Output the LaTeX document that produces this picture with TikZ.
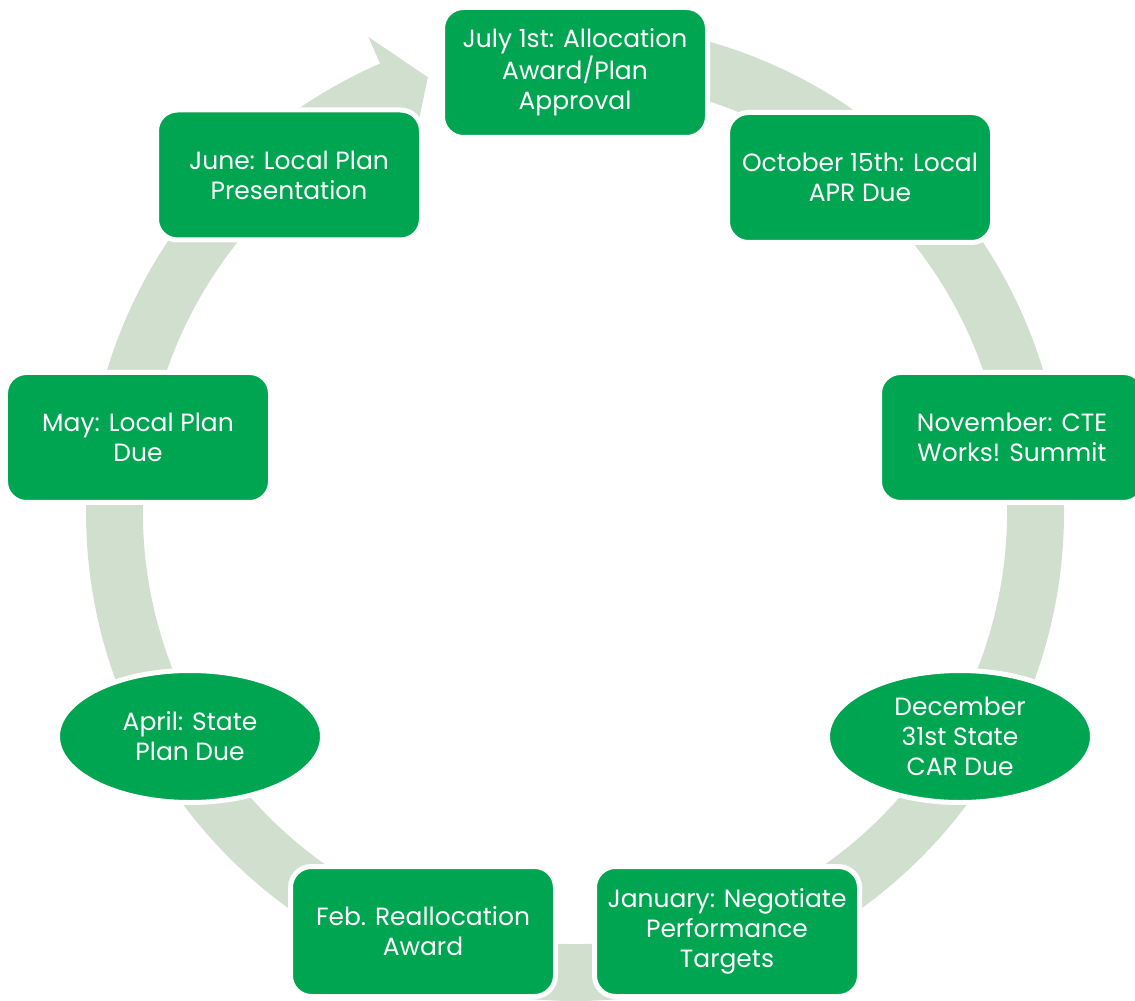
\documentclass[tikz,border=0pt]{standalone}
\usepackage{fontspec}
\setmainfont{Poppins}
\usetikzlibrary{calc,shapes.geometric,positioning}
\definecolor{stepgreen}{HTML}{00A552}
\definecolor{ringgreen}{HTML}{D1E0CE}
\tikzset{/cycle/box/.style={rectangle, rounded corners=0.42cm, draw=white, line width=0.1cm, fill=stepgreen, text=white, align=center, minimum width=5.3cm, minimum height=2.6cm, font=\fontsize{14.2}{17}\selectfont
}}
\tikzset{/cycle/oval/.style={ellipse, draw=white, line width=0.1cm, fill=stepgreen, text=white, align=center, minimum width=5.3cm, minimum height=2.64cm, inner sep=0pt, font=\fontsize{14.2}{17}\selectfont
}}
\begin{document}
\begin{tikzpicture}
		\useasboundingbox (0,0) rectangle (22.7,20);
		\coordinate (C) at (11.5,9.76);
		% ring arrow behind the steps
		\fill[ringgreen] ($(C)+(90:9.78cm)$) arc[start angle=90, end angle=-246.5, radius=9.78cm]
			-- ($(C)+(113.5:10.36cm)$) -- ($(C)+(108.7:9.18cm)$) -- ($(C)+(113.5:8.06cm)$)
			-- ($(C)+(113.5:8.64cm)$) arc[start angle=-246.5, end angle=90, radius=8.64cm] -- cycle;
		% steps
		\node[/cycle/box] (july) at (11.5,18.55) {July 1st: Allocation\\Award/Plan\\Approval};
		\node[/cycle/box] (october) at (17.2,16.45) {October 15th: Local\\APR Due};
		\node[/cycle/box] (november) at (20.24,11.25) {November: CTE\\Works! Summit};
		\node[/cycle/oval] (december) at (19.2,5.27) {December\\31st State\\CAR Due};
		\node[/cycle/box] (january) at (14.54,1.37) {January: Negotiate\\Performance\\Targets};
		\node[/cycle/box] (feb) at (8.46,1.37) {Feb. Reallocation\\Award};
		\node[/cycle/oval] (april) at (3.8,5.27) {April: State\\Plan Due};
		\node[/cycle/box] (may) at (2.76,11.25) {May: Local Plan\\Due};
		\node[/cycle/box] (june) at (5.78,16.5) {June: Local Plan\\Presentation};
	\end{tikzpicture}
\end{document}
